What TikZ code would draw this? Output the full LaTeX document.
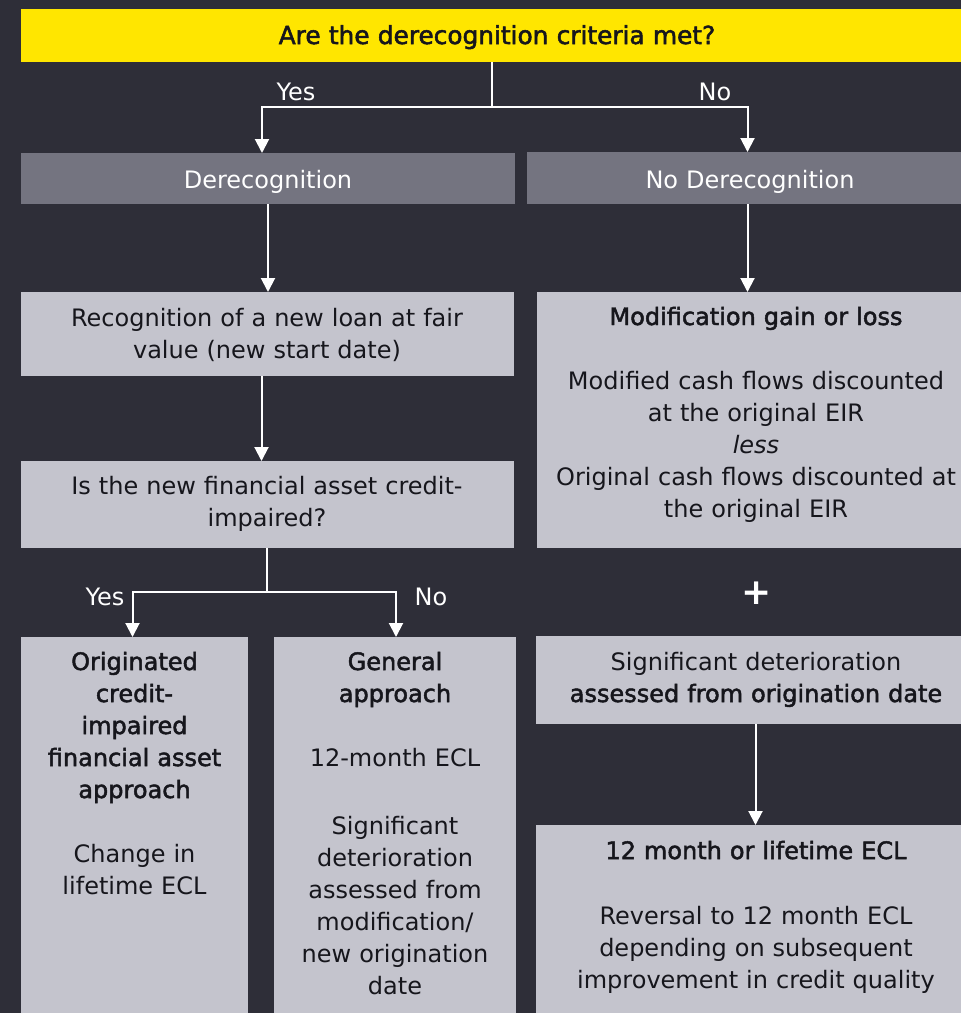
\documentclass[tikz,border=0pt]{standalone}
\usepackage{fontspec}
\setmainfont{DejaVu Sans}
\newfontfamily\medfont{DejaVu Sans}[FakeBold=2]
\usetikzlibrary{arrows.meta}
\definecolor{bgdark}{HTML}{2E2E38}
\definecolor{eyyellow}{HTML}{FFE600}
\definecolor{hdrgrey}{HTML}{747480}
\definecolor{boxgrey}{HTML}{C4C4CD}
\definecolor{inkdark}{HTML}{16161C}

\tikzset{
  panel/.style 2 args={rectangle, draw=none, inner sep=0pt, outer sep=0pt,
    anchor=north west, minimum width=#1, minimum height=#2},
  lightbox/.style 2 args={panel={#1}{#2}, fill=boxgrey},
  darkbox/.style 2 args={panel={#1}{#2}, fill=hdrgrey},
  txt/.style={anchor=base, inner sep=0pt, text width=470pt, align=center,
    font=\fontsize{24}{32}\selectfont, text=inkdark},
  wtxt/.style={txt, text=white},
  lbl/.style={anchor=base, inner sep=0pt, font=\fontsize{24}{32}\selectfont, text=white},
  wire/.style={draw=white, line width=2pt},
  arr/.style={wire, -{Triangle[width=14pt,length=14pt]}}
}

\begin{document}
\begin{tikzpicture}[x=1pt,y=-1pt]
\useasboundingbox (0,0) rectangle (961,1013);
\clip (0,0) rectangle (961,1013);
\fill[bgdark] (0,0) rectangle (961,1013);

% question bar
\node[panel={954pt}{53pt}, fill=eyyellow] (crit) at (21,9) {};
\node[txt, font=\fontsize{24.8}{32}\medfont] (critT) at (497,44) {Are the derecognition criteria met?};

% outcome headers
\node[darkbox={494pt}{51pt}] (hdrL) at (21,153) {};
\node[wtxt] (hdrLT) at (268,188) {Derecognition};
\node[darkbox={446pt}{52pt}] (hdrR) at (527,152) {};
\node[wtxt] (hdrRT) at (750,188) {No Derecognition};

% left column
\node[lightbox={493pt}{84pt}] (recog) at (21,292) {};
\node[txt] (recogT) at (267,326) {Recognition of a new loan at fair\\value (new start date)};

\node[lightbox={493pt}{87pt}] (question) at (21,461) {};
\node[txt] (questionT) at (267,494) {Is the new financial asset credit-\\impaired?};

\node[lightbox={227pt}{400pt}] (poci) at (21,637) {};
\node[txt] (pociT) at (134.5,670) {{\medfont Originated}\\{\medfont credit-}\\{\medfont impaired}\\{\medfont financial asset}\\{\medfont approach}\\[32pt]Change in\\lifetime ECL};

\node[lightbox={242pt}{400pt}] (general) at (274,637) {};
\node[txt] (generalT) at (395,670) {{\medfont General}\\{\medfont approach}\\[32pt]12-month ECL\\[36pt]Significant\\deterioration\\assessed from\\modification/\\new origination\\date};

% right column
\node[lightbox={438pt}{256pt}] (modif) at (537,292) {};
\node[txt] (modifT) at (756,325) {{\medfont Modification gain or loss}\\[32pt]Modified cash flows discounted\\at the original EIR\\\textit{less}\\Original cash flows discounted at\\the original EIR};

\node[lbl, anchor=center, font=\fontsize{36}{36}\selectfont\bfseries] (plus) at (757,593) {+};

\node[lightbox={439pt}{88pt}] (sigdet) at (536,636) {};
\node[txt] (sigdetT) at (756,670) {Significant deterioration\\{\medfont assessed from origination date}};

\node[lightbox={439pt}{220pt}] (ecl) at (536,825) {};
\node[txt] (eclT) at (756,859) {{\medfont 12 month or lifetime ECL}\\[33pt]Reversal to 12 month ECL\\depending on subsequent\\improvement in credit quality};

% branch labels
\node[lbl] (yesA) at (296,100) {Yes};
\node[lbl] (noA) at (715,100) {No};
\node[lbl] (yesB) at (105,605) {Yes};
\node[lbl] (noB) at (431,605) {No};

% connectors
\coordinate (splitA) at (492,107);
\coordinate (colYes) at (262,0);
\coordinate (colNo) at (747.5,0);
\draw[wire] (crit.south -| splitA) -- (splitA);
\draw[arr] (splitA) -| (hdrL.north -| colYes);
\draw[arr] (splitA) -| (hdrR.north -| colNo);

\draw[arr] (hdrL.south) -- (hdrL.south |- recog.north);
\draw[arr] (hdrR.south -| colNo) -- (modif.north -| colNo);

\coordinate (colQ) at (261.5,0);
\draw[arr] (recog.south -| colQ) -- (question.north -| colQ);

\coordinate (splitB) at (266.5,592);
\coordinate (colPoci) at (132.5,0);
\coordinate (colGen) at (396,0);
\draw[wire] (question.south -| splitB) -- (splitB);
\draw[arr] (splitB) -| (poci.north -| colPoci);
\draw[arr] (splitB) -| (general.north -| colGen);

\draw[arr] (sigdet.south) -- (sigdet.south |- ecl.north);
\end{tikzpicture}
\end{document}
